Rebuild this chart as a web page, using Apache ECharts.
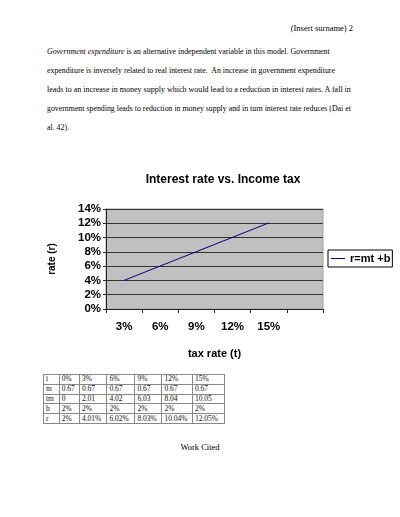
<!DOCTYPE html>
<html>
<head>
<meta charset="utf-8">
<script src="https://cdn.jsdelivr.net/npm/echarts@6/dist/echarts.min.js"></script>
<style>
html,body{margin:0;padding:0;background:#fff;width:400px;height:517px;overflow:hidden;position:relative;}
.t{position:absolute;font-family:"Liberation Serif","Times New Roman",serif;color:#000;white-space:nowrap;}
#chart{position:absolute;left:0;top:160px;width:400px;height:200px;}
table{position:absolute;left:43px;top:374px;border-collapse:collapse;font-family:"Liberation Serif",serif;font-size:7.5px;color:#111;}
td{border:1px solid #888;height:8.8px;padding:0 2px;line-height:8px;}
</style>
</head>
<body>
<div class="t" id="hdr" style="top:23px;font-size:8.5px;">(Insert surname) 2</div>
<div id="body"></div>
<div id="chart"></div>
<table id="tbl"></table>
<div class="t" id="cited" style="top:442px;font-size:8.5px;">Work Cited</div>
<script>
// chart data
const categories = ['3%', '6%', '9%', '12%', '15%', ''];
const rValues = [4.01, 6.02, 8.03, 10.04, 12.05, null];
const seriesName = 'r=mt +b';
const yTicks = [0, 2, 4, 6, 8, 10, 12, 14];

// table data
const rowLabels = ['t', 'm', 'tm', 'b', 'r'];
const rowT = ['0%', '3%', '6%', '9%', '12%', '15%'];
const rowM = ['0.67', '0.67', '0.67', '0.67', '0.67', '0.67'];
const rowTM = ['0', '2.01', '4.02', '6.03', '8.04', '10.05'];
const rowB = ['2%', '2%', '2%', '2%', '2%', '2%'];
const rowR = ['2%', '4.01%', '6.02%', '8.03%', '10.04%', '12.05%'];

// document text
const bodyLines = [
  ['<i>Government expenditure</i> is an alternative independent variable in this model. Government', 283],
  ['expenditure is inversely related to real interest rate.&nbsp; An increase in government expenditure', 288],
  ['leads to an increase in money supply which would lead to a reduction in interest rates. A fall in', 304],
  ['government spending leads to reduction in money supply and in turn interest rate reduces (Dai et', 304],
  ['al. 42).', 22]
];
const bodyTops = [47, 66, 85, 104, 123];

const body = document.getElementById('body');
bodyLines.forEach((l, i) => {
  const d = document.createElement('div');
  d.className = 't';
  d.style.left = '47px';
  d.style.fontSize = '8.5px';
  d.innerHTML = l[0];
  body.appendChild(d);
  const w = d.getBoundingClientRect().width;
  const fs = 8.5 * l[1] / w;
  d.style.fontSize = fs.toFixed(2) + 'px';
  d.style.top = (bodyTops[i] + (8.5 - fs) / 2) + 'px';
});
function placeRight(el, right) {
  const w = el.getBoundingClientRect().width;
  el.style.left = (right - w) + 'px';
}
placeRight(document.getElementById('hdr'), 353);
const cited = document.getElementById('cited');
cited.style.left = (200 - cited.getBoundingClientRect().width / 2) + 'px';

const colW = [15.7, 20.3, 27.4, 28, 27, 30.6, 32];
const tbl = document.getElementById('tbl');
[rowT, rowM, rowTM, rowB, rowR].forEach((row, ri) => {
  const tr = document.createElement('tr');
  [rowLabels[ri]].concat(row).forEach((v, ci) => {
    const td = document.createElement('td');
    td.textContent = v;
    td.style.width = (colW[ci] - 5) + 'px';
    tr.appendChild(td);
  });
  tbl.appendChild(tr);
});

const chart = echarts.init(document.getElementById('chart'), null, {renderer: 'canvas'});
const bold = {fontFamily: 'Liberation Sans, Arial, sans-serif', fontWeight: 'bold', color: '#000'};
chart.setOption({
  animation: false,
  title: {
    text: 'Interest rate vs. Income tax',
    left: 223, top: 14, textAlign: 'center', padding: 0,
    textStyle: Object.assign({fontSize: 12}, bold)
  },
  legend: {
    left: 328, top: 90,
    data: [seriesName],
    borderColor: '#000', borderWidth: 1,
    padding: [3, 2, 3, 3],
    itemWidth: 14, itemHeight: 10,
    icon: 'path://M0,5 L14,5 L14,6 L0,6 Z',
    textStyle: Object.assign({fontSize: 11}, bold)
  },
  grid: {left: 106, right: 77, top: 49, bottom: 51, show: true, backgroundColor: '#c0c0c0', borderColor: '#a0a0a0', borderWidth: 1},
  xAxis: {
    type: 'category',
    data: categories,
    boundaryGap: true,
    name: 'tax rate (t)', nameLocation: 'middle', nameGap: 39,
    nameTextStyle: Object.assign({fontSize: 11}, bold),
    axisLine: {lineStyle: {color: '#222', width: 1}},
    axisTick: {show: true, length: 4, lineStyle: {color: '#222'}},
    axisLabel: Object.assign({fontSize: 11.5, margin: 12}, bold),
    splitLine: {show: false}
  },
  yAxis: {
    type: 'value',
    min: yTicks[0], max: yTicks[yTicks.length - 1], interval: 2,
    name: 'rate (r)', nameLocation: 'middle', nameGap: 49, nameRotate: 90,
    nameTextStyle: Object.assign({fontSize: 10}, bold),
    axisLine: {show: true, lineStyle: {color: '#222', width: 1}},
    axisTick: {show: true, length: 3, lineStyle: {color: '#222'}},
    axisLabel: Object.assign({fontSize: 11.5, margin: 5, formatter: '{value}%'}, bold),
    splitLine: {show: true, lineStyle: {color: '#333', width: 1}}
  },
  series: [{
    name: seriesName,
    type: 'line',
    data: rValues,
    symbol: 'none',
    lineStyle: {color: '#000080', width: 1},
    itemStyle: {color: '#000080'}
  }]
});
</script>
</body>
</html>
